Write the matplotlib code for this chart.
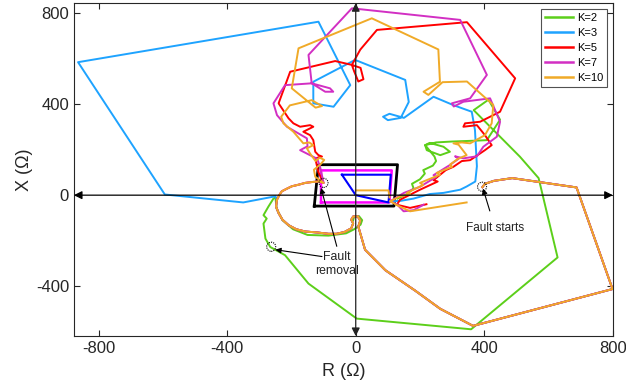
import numpy as np
import matplotlib
matplotlib.use("Agg")
import matplotlib.pyplot as plt
from matplotlib.patches import Ellipse

plt.rcParams['font.family'] = ['Liberation Sans', 'DejaVu Sans']
plt.rcParams['axes.unicode_minus'] = False

# ---------------- data (R, X in ohm) ----------------
# shared fault-on loop (K=3,5,7,10)
fault_R = [394, 402, 430, 487, 687, 799, 365, 263, 185, 92, 29, 8]
fault_X = [35, 50, 63, 75, 34, -413, -575, -500, -420, -330, -240, -138]

# curl near origin + lower-left loop up to fault removal
loop_R = [14, 6, -8, -14, -8, -14, -35, -60, -85, -120, -157, -185, -209, -228, -240, -248, -245, -238, -230, -215, -199, -178, -157, -135, -116, -100]
loop_X = [-112, -93, -94, -108, -124, -146, -162, -170, -170, -164, -160, -150, -132, -108, -79, -50, -20, 0, 17, 28, 39, 46, 54, 58, 60, 54]

# K=10 after fault removal
post10_R = [-126, -130, -110, -98, -112, -125, -142, -152, -132, -145, -163, -194, -225, -232, -205, -137, -105, -125, -199, -178,
            50, 257, 262, 211, 226, 270, 346, 428, 423, 402, 356, 330, 304, 320, 345, 318, 293, 300, 252, 262, 200, 210,
            159, 170, 138, 107, 130, 169, 345, np.nan, 105, 102, 0]
post10_X = [81, 112, 135, 155, 165, 150, 183, 206, 220, 232, 228, 279, 316, 345, 395, 418, 392, 385, 470, 646,
            778, 641, 499, 455, 441, 497, 500, 397, 316, 264, 228, 232, 228, 222, 176, 160, 134, 125, 98, 90, 54, 45,
            10, 5, -5, -27, -45, -71, -32, np.nan, -10, 21, 21]

# K=7 after fault removal
post7_R = [-111, -120, -173, -150, -152, -214, -245, -256, -220, -137, -80, -70, -95, -137, -147, -12, 325, 408, 356,
           299, 305, 335, 418, 449, 439, 397, 377, 335, 309, 320, 290, 242, 250, 200, 150, 107, 128, 149, 180, 211]
post7_X = [125, 160, 198, 215, 250, 301, 352, 404, 484, 492, 470, 455, 455, 492, 617, 822, 771, 529, 426,
           404, 390, 411, 426, 323, 257, 213, 171, 162, 171, 160, 130, 88, 80, 37, 10, -27, -40, -71, -66, -42]

# K=5 after fault removal
post5_R = [-116, -126, -105, -116, -126, -132, -142, -163, -132, -142, -173, -194, -209, -240, -204, -64, -12, 15, 24, 8,
           -5, -12, 14, 66, 346, 496, 449, 387, 340, 335, 377, 402, 423, 402, 356, 330, 304, 280, 242, 255, 200, 138,
           128, 169, 220]
post5_X = [100, 162, 170, 176, 191, 242, 264, 279, 301, 308, 301, 316, 338, 404, 543, 590, 573, 560, 510, 500,
           545, 573, 640, 727, 761, 514, 367, 323, 316, 301, 308, 264, 220, 198, 154, 150, 125, 110, 66, 60, 24, -20,
           -42, -56, -40]

# K=3 leaves the loop to the left
post3_R = [-250, -350, -594, -864, -116, -17, -69, -132, -132, -2, 154, 165, 140, 100, 85, 105, 150, 242, 304, 361,
           371, 377, 372, 345, 325, 273, 230, 180, 140, 107]
post3_X = [-5, -32, 3, 585, 763, 484, 389, 404, 499, 595, 507, 410, 340, 330, 345, 358, 340, 433, 396, 367,
           286, 127, 60, 38, 24, 10, 5, -15, -25, -27]

# K=2 (own trajectory)
k2_R = [130, 160, 180, 175, 200, 215, 210, 240, 250, 245, 216, 230, 273, 293, 263, 221, 216, 250, 300, 377, 408, 449,
        413, 367, 511, 569, 628, 359, 3, -147, -220, -266, -281, -287, -277, -287, -272, -256, -250, -246, -228,
        -195, -150, -85, -30, -5, 15, 20, 10, -5, -8]
k2_X = [-15, 5, 30, 50, 70, 95, 110, 130, 150, 170, 220, 230, 213, 191, 176, 198, 220, 232, 236, 240, 242, 332,
        420, 374, 169, 75, -274, -590, -543, -389, -264, -228, -191, -125, -103, -88, -51, -15, -10, -60, -110,
        -150, -175, -178, -168, -150, -130, -110, -92, -95, -110]

# relay characteristics
blk_R = [-129, -116, 130, 119, -129]
blk_X = [-48, 134, 134, -48, -48]
mag_R = [-108, -108, 112, 105, -108]
mag_X = [-32, 109, 109, -32, -32]
blu_R = [-43, 109, 102, 0, -43]
blu_X = [90, 90, -32, 0, 90]

labels = ['K=2', 'K=3', 'K=5', 'K=7', 'K=10']
colors = ['#5ccf1a', '#1ea3ff', '#ff0000', '#d22fc3', '#f0aa28']

# assemble series
n_k3 = loop_R.index(-245) + 1
series = {
    'K=2': (k2_R, k2_X),
    'K=3': (fault_R + loop_R[:n_k3] + post3_R, fault_X + loop_X[:n_k3] + post3_X),
    'K=5': (fault_R + loop_R + post5_R, fault_X + loop_X + post5_X),
    'K=7': (fault_R + loop_R + post7_R, fault_X + loop_X + post7_X),
    'K=10': (fault_R + loop_R + post10_R, fault_X + loop_X + post10_X),
}

fig = plt.figure(figsize=(6.26, 3.85), dpi=100)
ax = fig.add_axes([0.118, 0.127, 0.861, 0.865])

ax.plot(blk_R, blk_X, color='black', lw=2.0, zorder=2)
ax.plot(mag_R, mag_X, color='#ff00ff', lw=1.8, zorder=2)
ax.plot(blu_R, blu_X, color='#0000ff', lw=1.5, zorder=2)

for lab, col in zip(labels, colors):
    r, x = series[lab]
    ax.plot(r, x, color=col, lw=1.4, label=lab, zorder=3)

xmin, xmax = -877, 800
ymin, ymax = -620, 845
ax.set_xlim(xmin, xmax)
ax.set_ylim(ymin, ymax)

# axis arrows
ax.annotate('', xy=(xmax, 0), xytext=(xmin, 0),
            arrowprops=dict(arrowstyle='<|-|>', color='black', lw=0.9, mutation_scale=12,
                            shrinkA=0, shrinkB=0), zorder=4)
ax.annotate('', xy=(0, ymax), xytext=(0, ymin),
            arrowprops=dict(arrowstyle='<|-|>', color='#222222', lw=0.9, mutation_scale=12,
                            shrinkA=0, shrinkB=0), zorder=4)

# dotted markers
for (cr, cx) in [(393, 37), (-100, 54), (-263, -227)]:
    ax.add_patch(Ellipse((cr, cx), 28, 40, fill=False, ls=(0, (1, 1)), lw=0.8, ec='black', zorder=5))

ax.annotate('Fault starts', xy=(396, 29), xytext=(433, -143), ha='center', va='center', fontsize=8.5,
            color='#222222',
            arrowprops=dict(arrowstyle='-|>', color='black', lw=0.8, mutation_scale=8, shrinkA=6, shrinkB=0))
ax.text(-58, -302, 'Fault\nremoval', ha='center', va='center', fontsize=8.8, color='#222222', linespacing=1.2)
ax.annotate('', xy=(-108, 32), xytext=(-59, -225),
            arrowprops=dict(arrowstyle='-|>', color='black', lw=0.8, mutation_scale=8, shrinkA=0, shrinkB=0))
ax.annotate('', xy=(-250, -240), xytext=(-105, -270),
            arrowprops=dict(arrowstyle='-|>', color='black', lw=0.8, mutation_scale=8, shrinkA=0, shrinkB=0))

ax.set_xticks([-800, -400, 0, 400, 800])
ax.set_yticks([-400, 0, 400, 800])
ax.tick_params(direction='in', top=True, right=True, labelsize=12, colors='#262626', length=4)
for s in ax.spines.values():
    s.set_color('#262626')
    s.set_linewidth(0.8)
ax.set_xlabel('R (Ω)', fontsize=13, color='#262626', labelpad=5)
ax.set_ylabel('X (Ω)', fontsize=13, color='#262626', labelpad=2)

leg = ax.legend(loc='upper right', fontsize=8, frameon=True, fancybox=False, edgecolor='#262626',
                handlelength=2.6, borderpad=0.35, labelspacing=0.45, handletextpad=0.3,
                borderaxespad=0, bbox_to_anchor=(0.989, 0.983))
leg.get_frame().set_linewidth(0.8)
for lh in leg.get_lines():
    lh.set_linewidth(1.8)

fig.savefig('out.png', dpi=100)
